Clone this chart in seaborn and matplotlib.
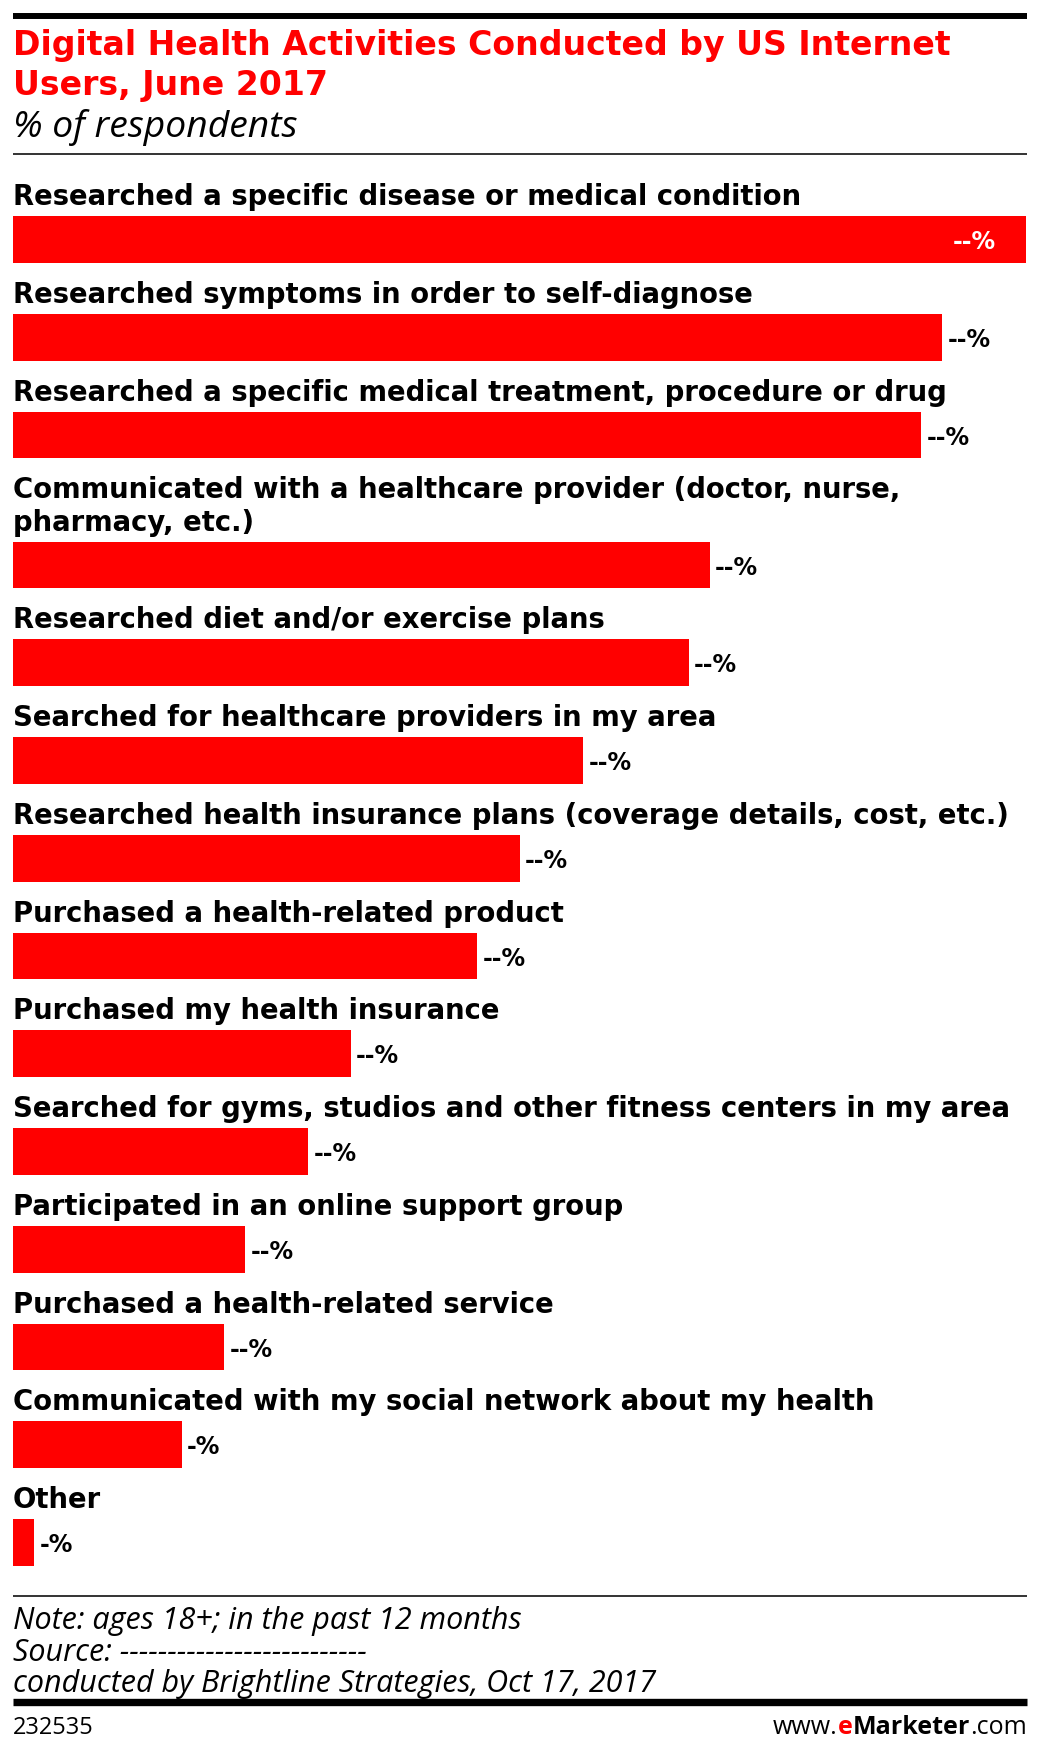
import numpy as np
import pandas as pd
import matplotlib
matplotlib.use('Agg')
import matplotlib.pyplot as plt
from matplotlib.lines import Line2D
import seaborn as sns

# ---- data ----
categories = [
    "Researched a specific disease or medical condition",
    "Researched symptoms in order to self-diagnose",
    "Researched a specific medical treatment, procedure or drug",
    "Communicated with a healthcare provider (doctor, nurse,\npharmacy, etc.)",
    "Researched diet and/or exercise plans",
    "Searched for healthcare providers in my area",
    "Researched health insurance plans (coverage details, cost, etc.)",
    "Purchased a health-related product",
    "Purchased my health insurance",
    "Searched for gyms, studios and other fitness centers in my area",
    "Participated in an online support group",
    "Purchased a health-related service",
    "Communicated with my social network about my health",
    "Other",
]
values = [48, 44, 43, 33, 32, 27, 24, 22, 16, 14, 11, 10, 8, 1]
value_labels = ["--%"] * 12 + ["-%", "-%"]

title_lines = ["Digital Health Activities Conducted by US Internet", "Users, June 2017"]
subtitle = "% of respondents"
note_lines = [
    "Note: ages 18+; in the past 12 months",
    "Source: " + "-" * 26,
    "conducted by Brightline Strategies, Oct 17, 2017",
]
chart_id = "232535"

# ---- layout (pixels) ----
W, H = 1038, 1751
RED = "#FF0000"
left_px, right_px = 12.6, 1026.5
pitch = 97.75          # px per row
first_center = 239.5   # px, centre of first bar
extra_line = 0.33      # extra row fraction per additional label line
ax_top, ax_bot = 165, 1590

def fx(px):
    return px / W

def fy(px):
    return 1 - px / H

sns.set_theme(style="white")
plt.rcParams['font.family'] = ['DejaVu Sans']

fig = plt.figure(figsize=(W / 100, H / 100), dpi=100)
fig.patch.set_facecolor("white")

nlines = np.array([c.count("\n") + 1 for c in categories])
positions = np.arange(len(categories)) + extra_line * np.cumsum(nlines - 1)
df = pd.DataFrame({"activity": categories, "pct": values, "pos": positions})

ax = fig.add_axes([fx(left_px), fy(ax_bot), fx(right_px - left_px), (ax_bot - ax_top) / H])
sns.barplot(data=df, x="pct", y="pos", orient="h", native_scale=True,
            color=RED, saturation=1, width=0.48, errorbar=None, linewidth=0, ax=ax)
ax.set_xlim(0, max(values))
ax.set_ylim((ax_bot - first_center) / pitch, (ax_top - first_center) / pitch)
ax.axis("off")

# category labels above bars + value labels
half = 0.24
gap = 11 / pitch
line_step = 33 / pitch
for i, row in df.iterrows():
    lines = row["activity"].split("\n")
    base = row["pos"] - half - gap
    for k, ln in enumerate(reversed(lines)):
        ax.text(0, base - k * line_step, ln, fontsize=19.8, fontweight="bold",
                color="black", va="baseline", ha="left")
    if i == 0:
        ax.annotate(value_labels[i], (row["pct"], row["pos"]), xytext=(-22, 0),
                    textcoords="offset points", ha="right", va="center_baseline",
                    fontsize=17, fontweight="bold", color="white")
    else:
        ax.annotate(value_labels[i], (row["pct"], row["pos"]), xytext=(4, 0),
                    textcoords="offset points", ha="left", va="center_baseline",
                    fontsize=17, fontweight="bold", color="black")

# title block
fig.text(fx(left_px), fy(55), title_lines[0], color=RED, fontsize=23.9, fontweight="bold", va="baseline")
fig.text(fx(left_px), fy(95), title_lines[1], color=RED, fontsize=23.9, fontweight="bold", va="baseline")
fig.text(fx(left_px), fy(137), subtitle, family="Open Sans", style="italic", fontsize=26.8,
         color="black", va="baseline")

# rules
def hrule(y, lw, color):
    fig.add_artist(Line2D([fx(left_px), fx(right_px)], [fy(y), fy(y)], lw=lw, color=color,
                          solid_capstyle="butt"))

hrule(16, 4.3, "black")
hrule(154, 1.4, "#333333")
hrule(1596, 1.4, "#333333")
hrule(1702, 5.3, "black")

# footer
for k, ln in enumerate(note_lines):
    fig.text(fx(left_px), fy(1629 + k * 31.5), ln, family="Open Sans", style="italic",
             fontsize=22, color="black", va="baseline")
fig.text(fx(left_px), fy(1734), chart_id, family="Open Sans", fontsize=17, color="black",
         va="baseline")

# www.eMarketer.com, built right-to-left
renderer = fig.canvas.get_renderer()
pieces = [("www.", "normal", "black"), ("e", "bold", RED), ("Marketer", "bold", "black"),
          (".com", "normal", "black")]
x = right_px
for txt, wt, col in reversed(pieces):
    t = fig.text(fx(x), fy(1734), txt, family="Open Sans", fontweight=wt, fontsize=18,
                 color=col, ha="right", va="baseline")
    x -= t.get_window_extent(renderer).width

fig.savefig("out.png", dpi=100, facecolor="white")
